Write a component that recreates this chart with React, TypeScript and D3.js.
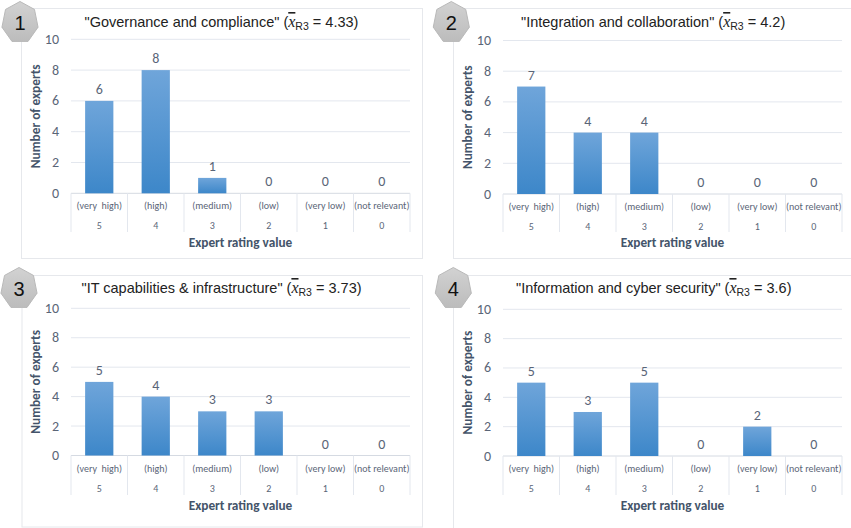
import React from "react";
import * as d3 from "d3";

const ratingLabels = ["(very  high)", "(high)", "(medium)", "(low)", "(very low)", "(not relevant)"];
const ratingValues = ["5", "4", "3", "2", "1", "0"];
const yTicks = [0, 2, 4, 6, 8, 10];

const titles = [
  '"Governance and compliance"',
  '"Integration and collaboration"',
  '"IT capabilities & infrastructure"',
  '"Information and cyber security"',
];
const means = ["4.33", "4.2", "3.73", "3.6"];
const governance = [6, 8, 1, 0, 0, 0];
const integration = [7, 4, 4, 0, 0, 0];
const infrastructure = [5, 4, 3, 3, 0, 0];
const security = [5, 3, 5, 0, 2, 0];
const seriesList = [governance, integration, infrastructure, security];

// Layout of each small multiple: card frame, plot area, title position, badge centre.
// The right-hand cards run past the edge of the page, so their frames stay open there.
const panels = [
  { fx: 21, fy: 8, fr: 423, fb: 259, l: 71, r: 410, t: 39.3, b: 193.3, tb: 232, tx: 84.5, ty: 27, bx: 20, by: 22.5 },
  { fx: 453, fy: 8, fr: 858, fb: 259, l: 503, r: 842, t: 40.5, b: 194, tb: 232, tx: 521, ty: 27, bx: 451.3, by: 22.5 },
  { fx: 21.5, fy: 275, fr: 423, fb: 527.5, l: 71, r: 410, t: 308.3, b: 455.5, tb: 495, tx: 81.5, ty: 293, bx: 19, by: 288.5 },
  { fx: 453, fy: 275, fr: 858, fb: 534, l: 503, r: 842, t: 309.3, b: 456, tb: 495, tx: 516, ty: 293, bx: 453.3, by: 288.5 },
];

const SANS = "Carlito, Calibri, 'Open Sans', 'Noto Sans', sans-serif";
const TITLE = "Arial, 'Liberation Sans', sans-serif";
const GRID = "#e3e7ee";
const TEXT = "#5a6577";
const HEAD = "#44546a";

// Seven-sided grey badge holding the panel number, slightly taller than wide.
function heptagon(cx: number, cy: number, rx: number, ry: number) {
  const pts: [number, number][] = d3.range(7).map((i) => {
    const a = -Math.PI / 2 + (i * 2 * Math.PI) / 7;
    return [cx + rx * Math.cos(a), cy + ry * Math.sin(a)];
  });
  return d3.line()(pts) + "Z";
}

function Panel({ index }: { index: number }) {
  const p = panels[index];
  const values = seriesList[index];
  const x = d3.scaleBand<number>().domain(d3.range(6)).range([p.l, p.r]);
  const y = d3.scaleLinear().domain([0, 10]).range([p.b, p.t]);
  const gradId = `bar-fill-${index}`;
  const w = x.bandwidth();
  const barW = w * 0.5;
  const edges = d3.range(7).map((i) => p.l + i * w);
  return (
    <g>
      <defs>
        <linearGradient id={gradId} x1="0" y1="0" x2="0" y2="1">
          <stop offset="0" stopColor="#6fa5da" />
          <stop offset="1" stopColor="#3d87c9" />
        </linearGradient>
      </defs>
      <rect x={p.fx + 0.5} y={p.fy + 0.5} width={p.fr - p.fx - 1} height={p.fb - p.fy - 1} fill="#fff" stroke="#e6e8ec" />
      {yTicks.map((t) => (
        <g key={t}>
          {t > 0 && <line x1={p.l} x2={p.r} y1={y(t)} y2={y(t)} stroke={GRID} />}
          <text x={p.l - 12} y={y(t) + 4.5} textAnchor="end" fontFamily={SANS} fontSize={14} fill={TEXT}>{t}</text>
        </g>
      ))}
      <line x1={p.l} x2={p.r} y1={p.b} y2={p.b} stroke="#d5dae2" />
      {edges.map((e) => (
        <line key={e} x1={e} x2={e} y1={p.b} y2={p.tb} stroke={GRID} />
      ))}
      {values.map((v, i) => {
        const cx = x(i)! + w / 2;
        return (
          <g key={i}>
            {v > 0 && (
              <rect x={cx - barW / 2} y={y(v)} width={barW} height={p.b - y(v)} fill={`url(#${gradId})`} />
            )}
            <text x={cx} y={y(v) - 7} textAnchor="middle" fontFamily={SANS} fontSize={14} fill={TEXT}>{v}</text>
            <text x={cx} y={p.b + 16} textAnchor="middle" fontFamily={SANS} fontSize={10} fill={TEXT}>
              <tspan xmlSpace="preserve" style={{ whiteSpace: "pre" }}>{ratingLabels[i]}</tspan>
            </text>
            <text x={cx} y={p.b + 36} textAnchor="middle" fontFamily={SANS} fontSize={10} fill={TEXT}>{ratingValues[i]}</text>
          </g>
        );
      })}
      <text x={(p.l + p.r) / 2} y={p.tb + 15} textAnchor="middle" fontFamily={SANS} fontSize={13.3} fontWeight={700} fill={HEAD}>Expert rating value</text>
      <text transform={`translate(${p.l - 35},${(p.t + p.b) / 2}) rotate(-90)`} dy={4} textAnchor="middle" fontFamily={SANS} fontSize={13.3} fontWeight={700} fill={HEAD}>Number of experts</text>
      <text x={p.tx} y={p.ty} fontFamily={TITLE} fontSize={14.5} fill="#222">
        {titles[index]} (
        <tspan fontFamily="'Liberation Serif', serif" fontStyle="italic" fontSize={16} textDecoration="overline">x</tspan>
        <tspan fontSize={10.5} dy={3}>R3</tspan>
        <tspan dy={-3}> = {means[index]})</tspan>
      </text>
      <path d={heptagon(p.bx, p.by, 18.5, 21)} fill="url(#badge)" stroke="#b9b9b9" />
      <text x={p.bx} y={p.by + 7} textAnchor="middle" fontFamily={TITLE} fontSize={20} fill="#111">{index + 1}</text>
    </g>
  );
}

export default function App() {
  return (
    <svg width={851} height={528} style={{ position: "absolute", left: 0, top: 0, background: "#fff" }}>
      <defs>
        <linearGradient id="badge" x1="0" y1="0" x2="0" y2="1">
          <stop offset="0" stopColor="#d2d2d2" />
          <stop offset="1" stopColor="#bcbcbc" />
        </linearGradient>
      </defs>
      {panels.map((_, i) => (
        <Panel key={i} index={i} />
      ))}
    </svg>
  );
}
